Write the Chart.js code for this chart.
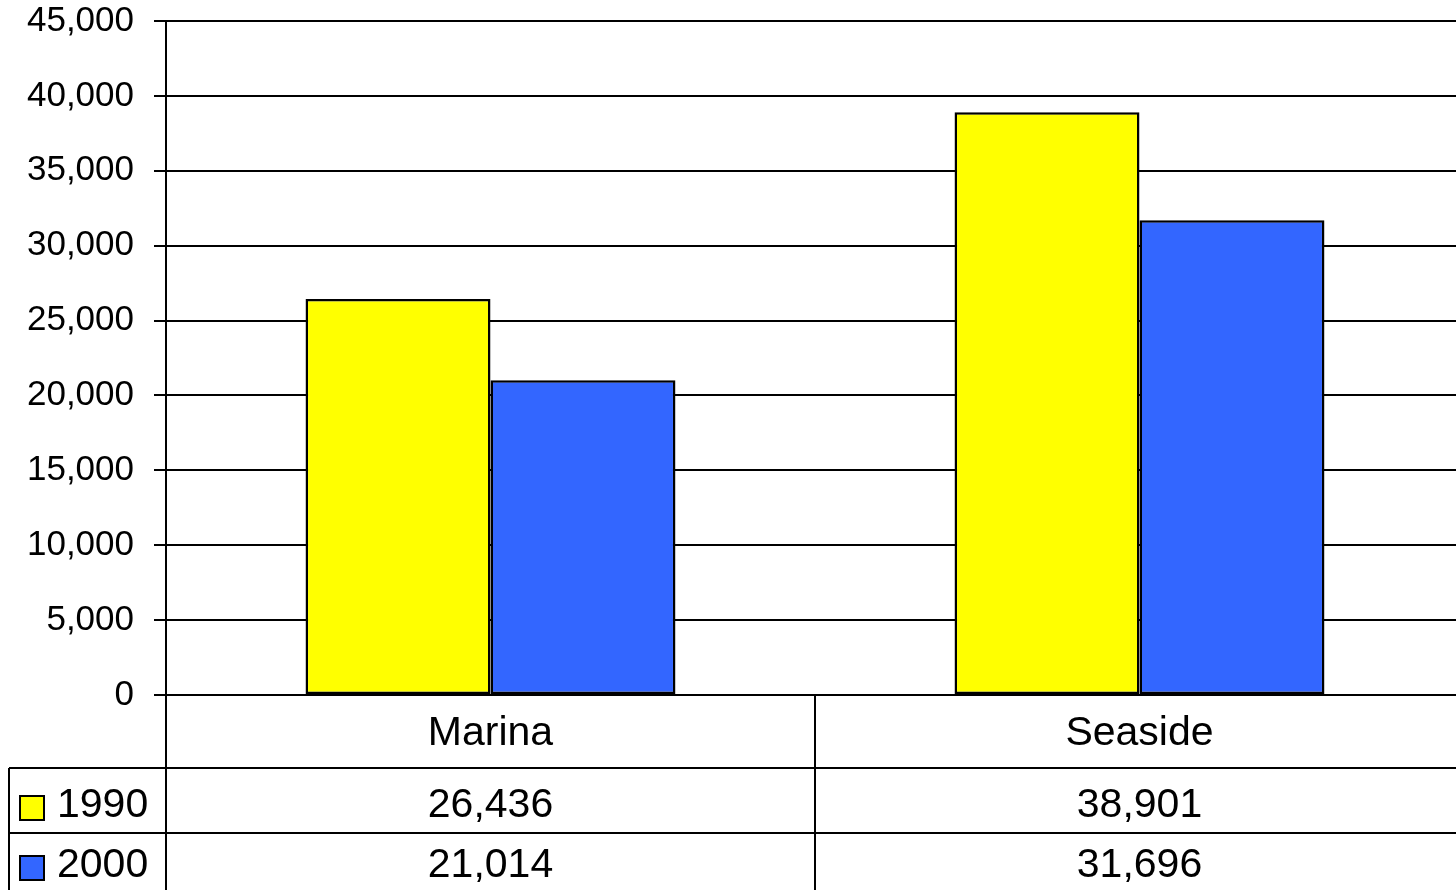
<!DOCTYPE html>
<html>
<head>
<meta charset="utf-8">
<script src="https://cdn.jsdelivr.net/npm/chart.js@4"></script>
<style>
  html, body { margin: 0; padding: 0; background: #fff; overflow: hidden; }
  #wrap { width: 1470px; height: 890px; position: relative; }
</style>
</head>
<body>
<div id="wrap"><canvas id="chart-utama"></canvas></div>
<script>
// data
const kategori = ["Marina", "Seaside"];
const seri = ["1990", "2000"];
const nilai1990 = [26436, 38901];
const nilai2000 = [21014, 31696];
const warna = ["#FFFF00", "#3366FF"];
const yTicks = [0, 5000, 10000, 15000, 20000, 25000, 30000, 35000, 40000, 45000];

const FONT = '"Liberation Sans", Arial, sans-serif';

// draws the data table under the plot (Excel style)
const tabelPlugin = {
    id: "tabelData",
    afterDraw(chart) {
        const ctx = chart.ctx;
        const xs = chart.scales.x;
        const area = chart.chartArea;
        const kanan = chart.width;
        const baris = [768, 833]; // row top edges
        const tengahBaris = [806, 866];
        const batas = (xs.getPixelForValue(0) + xs.getPixelForValue(1)) / 2;

        ctx.save();
        ctx.strokeStyle = "#000";
        ctx.lineWidth = 2;
        ctx.beginPath();
        // vertical lines
        ctx.moveTo(area.left, area.bottom); ctx.lineTo(area.left, chart.height);
        ctx.moveTo(batas, area.bottom); ctx.lineTo(batas, chart.height);
        ctx.moveTo(9, baris[0]); ctx.lineTo(9, chart.height);
        // horizontal lines
        baris.forEach((y) => { ctx.moveTo(9, y); ctx.lineTo(kanan, y); });
        ctx.stroke();

        const semua = [nilai1990, nilai2000];
        ctx.font = "41px " + FONT;
        ctx.fillStyle = "#000";
        ctx.textBaseline = "middle";
        seri.forEach((nama, i) => {
            const yc = tengahBaris[i];
            // legend key
            ctx.fillStyle = warna[i];
            ctx.fillRect(20, yc - 10, 24, 24);
            ctx.strokeStyle = "#000";
            ctx.lineWidth = 2;
            ctx.strokeRect(20, yc - 10, 24, 24);
            ctx.fillStyle = "#000";
            ctx.textAlign = "left";
            ctx.fillText(nama, 57, yc);
            ctx.textAlign = "center";
            semua[i].forEach((v, j) => {
                ctx.fillText(v.toLocaleString("en-US"), xs.getPixelForValue(j), yc);
            });
        });
        ctx.restore();
    },
};

const ctx = document.getElementById("chart-utama");
const mychart = new Chart(ctx, {
    type: "bar",
    data: {
        labels: kategori,
        datasets: [
            {
                label: seri[0],
                data: nilai1990,
                backgroundColor: warna[0],
                borderColor: "#000",
                borderWidth: 2.5,
                borderSkipped: false,
            },
            {
                label: seri[1],
                data: nilai2000,
                backgroundColor: warna[1],
                borderColor: "#000",
                borderWidth: 2.5,
                borderSkipped: false,
            },
        ],
    },
    options: {
        responsive: true,
        maintainAspectRatio: false,
        animation: false,
        datasets: {
            bar: { categoryPercentage: 0.57, barPercentage: 1.0 },
        },
        layout: { padding: { top: 21, right: 6, left: 0, bottom: 0 } },
        plugins: {
            legend: { display: false },
            tooltip: { enabled: false },
        },
        scales: {
            x: {
                grid: { display: false, drawTicks: false },
                border: { display: true, color: "#000", width: 2 },
                ticks: {
                    color: "#000",
                    font: { family: FONT, size: 41 },
                    padding: 14,
                },
                afterFit(scale) {
                    scale.height = 195;
                    scale.paddingLeft = 0;
                    scale.paddingRight = 0;
                },
            },
            y: {
                min: 0,
                max: 45000,
                afterBuildTicks(scale) { scale.ticks = yTicks.map((v) => ({ value: v })); },
                grid: { color: "#000", lineWidth: 2, tickLength: 12, drawTicks: true },
                border: { display: true, color: "#000", width: 2 },
                ticks: {
                    color: "#000",
                    font: { family: FONT, size: 35 },
                    padding: 20,
                    callback: (v) => v.toLocaleString("en-US"),
                },
                afterFit(scale) {
                    scale.width = 166;
                    scale.paddingTop = 0;
                    scale.paddingBottom = 0;
                },
            },
        },
    },
    plugins: [tabelPlugin],
});
</script>
</body>
</html>
